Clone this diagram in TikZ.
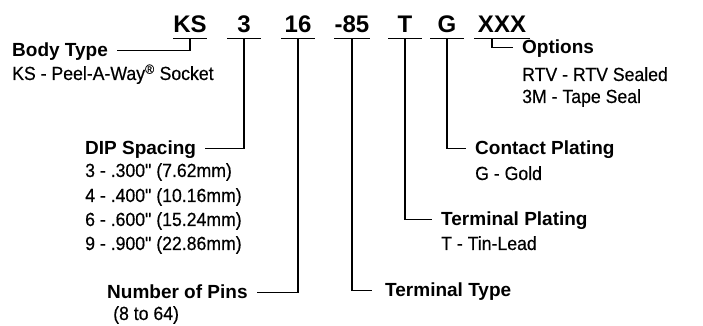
\documentclass[tikz,border=0pt]{standalone}
\usepackage{fontspec}
\setmainfont{Liberation Sans}
\newfontfamily\descfont[FakeStretch=0.93,FakeBold=0.4]{Liberation Sans}
\usetikzlibrary{positioning}
\newcommand\inch{\char"22\relax}
\tikzset{
  code/.style={font=\fontsize{24}{24}\selectfont\bfseries, inner xsep=0pt, inner ysep=5pt,
    text depth=0pt, minimum width=33pt, anchor=base},
  head/.style={font=\fontsize{19}{19}\selectfont\bfseries, inner sep=0pt,
    text height=13.6pt, text depth=0pt, anchor=base west},
  desc/.style={font=\fontsize{19}{19}\descfont, inner sep=0pt, anchor=base west},
  lead/.style={line width=1.1pt, shorten >=9pt},
  uline/.style={line width=1.1pt}
}
\begin{document}
\begin{tikzpicture}[x=1pt,y=1pt]
    \useasboundingbox (0,0) rectangle (703,326);
    % part number
    \node[code] (ks) at (190,293) {KS};
    \node[code] (sp3) at (244,293) {3};
    \node[code] (pins16) at (298,293) {16};
    \node[code] (tt85) at (352,293) {-85};
    \node[code] (tplt) at (405,293) {T};
    \node[code] (cplt) at (447,293) {G};
    \node[code, minimum width=55pt] (xxx) at (502,293) {XXX};
    \foreach \n in {ks,sp3,pins16,tt85,tplt,cplt,xxx}
        \draw[uline] (\n.south west) -- (\n.south east);
    % fields
    \node[head] (body) at (12,269) {Body Type};
    \node[desc] (bodya) at ([yshift=-23pt]body.base west) {KS - Peel-A-Way\textsuperscript{\textregistered} Socket};
    \node[head] (dip) at (85,171) {DIP Spacing};
    \node[desc] (dipa) at ([yshift=-22pt]dip.base west) {3 - .300\inch{} (7.62mm)};
    \node[desc] (dipb) at ([yshift=-25pt]dipa.base west) {4 - .400\inch{} (10.16mm)};
    \node[desc] (dipc) at ([yshift=-24pt]dipb.base west) {6 - .600\inch{} (15.24mm)};
    \node[desc] (dipd) at ([yshift=-24pt]dipc.base west) {9 - .900\inch{} (22.86mm)};
    \node[head] (pins) at (107,27) {Number of Pins};
    \node[desc] (pinsa) at ([xshift=6pt,yshift=-21pt]pins.base west) {(8 to 64)};
    \node[head] (ttype) at (385,29) {Terminal Type};
    \node[head] (tplat) at (441,100) {Terminal Plating};
    \node[desc] (tplata) at ([yshift=-24pt]tplat.base west) {T - Tin-Lead};
    \node[head] (cplat) at (475,171) {Contact Plating};
    \node[desc] (cplata) at ([yshift=-25pt]cplat.base west) {G - Gold};
    \node[head] (opt) at (522,272) {Options};
    \node[desc] (opta) at ([yshift=-27pt]opt.base west) {RTV - RTV Sealed};
    \node[desc] (optb) at ([yshift=-22pt]opta.base west) {3M - Tape Seal};
    % leaders
    \draw[lead] (ks.south) |- (body.east);
    \draw[lead] (sp3.south) |- (dip.east);
    \draw[lead] (pins16.south) |- (pins.east);
    \draw[lead, shorten >=13pt] (tt85.south) |- (ttype.west);
    \draw[lead] (tplt.south) |- (tplat.west);
    \draw[lead] (cplt.south) |- (cplat.west);
    \draw[lead] ([xshift=-10pt]xxx.south) |- (opt.west);
\end{tikzpicture}
\end{document}
